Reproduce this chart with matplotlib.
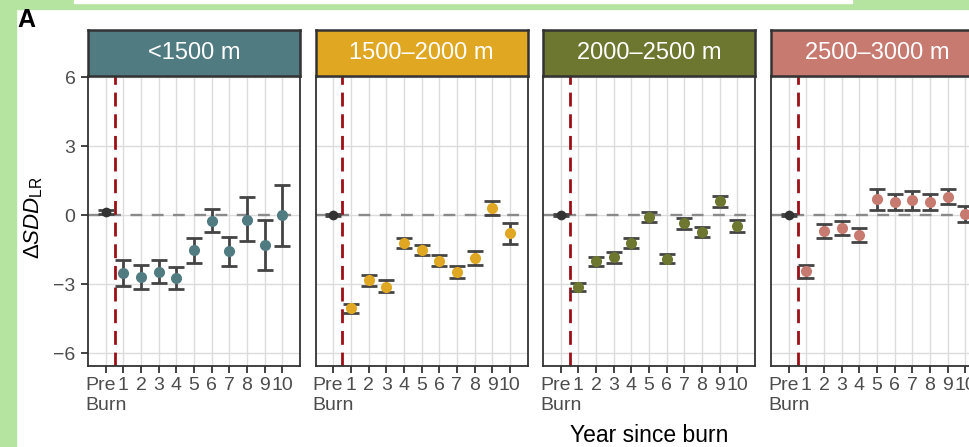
import numpy as np
import matplotlib
matplotlib.use('Agg')
import matplotlib.pyplot as plt
from matplotlib.patches import Rectangle

plt.rcParams['font.family'] = ['Liberation Sans', 'DejaVu Sans']
plt.rcParams['mathtext.fontset'] = 'custom'
plt.rcParams['mathtext.rm'] = 'Liberation Sans'
plt.rcParams['mathtext.it'] = 'Liberation Sans:italic'

# data: mean and interval per year (first value = Pre burn)
years = ['Pre\nBurn', '1', '2', '3', '4', '5', '6', '7', '8', '9', '10']
panel_titles = ['<1500 m', '1500\u20132000 m', '2000\u20132500 m', '2500\u20133000 m']
panel_colors = ['#507b81', '#e0a722', '#6d772f', '#c77a70']

p1_mean = [0.14, -2.50, -2.68, -2.45, -2.74, -1.52, -0.25, -1.57, -0.19, -1.29, 0.00]
p1_lo = [0.04, -3.07, -3.19, -2.94, -3.22, -2.07, -0.73, -2.19, -1.12, -2.39, -1.33]
p1_hi = [0.24, -1.94, -2.15, -1.94, -2.23, -0.97, 0.27, -0.96, 0.80, -0.20, 1.33]

p2_mean = [0.00, -4.04, -2.81, -3.10, -1.19, -1.49, -1.97, -2.45, -1.86, 0.32, -0.78]
p2_lo = [-0.04, -4.26, -3.06, -3.35, -1.42, -1.74, -2.20, -2.73, -2.15, 0.01, -1.23]
p2_hi = [0.04, -3.86, -2.60, -2.81, -0.97, -1.28, -1.73, -2.19, -1.54, 0.63, -0.35]

p3_mean = [0.00, -3.12, -1.99, -1.83, -1.20, -0.06, -1.89, -0.35, -0.74, 0.61, -0.45]
p3_lo = [-0.04, -3.30, -2.20, -2.06, -1.42, -0.30, -2.09, -0.61, -0.96, 0.37, -0.73]
p3_hi = [0.04, -2.93, -1.80, -1.61, -1.00, 0.14, -1.68, -0.10, -0.52, 0.83, -0.22]

p4_mean = [0.00, -2.44, -0.70, -0.57, -0.86, 0.70, 0.58, 0.67, 0.59, 0.81, 0.06]
p4_lo = [-0.04, -2.71, -1.00, -0.87, -1.16, 0.24, 0.22, 0.23, 0.25, 0.48, -0.29]
p4_hi = [0.04, -2.16, -0.39, -0.23, -0.57, 1.14, 0.91, 1.06, 0.91, 1.13, 0.42]

means = [p1_mean, p2_mean, p3_mean, p4_mean]
lows = [p1_lo, p2_lo, p3_lo, p4_lo]
highs = [p1_hi, p2_hi, p3_hi, p4_hi]

W, H = 969, 447
fig = plt.figure(figsize=(W / 100, H / 100), dpi=100)
fig.patch.set_facecolor('white')

green = '#b4e4a0'
def frac(l, t, w, h):
    return [l / W, (H - t - h) / H, w / W, h / H]

# screenshot frame
fig.patches.append(Rectangle((0, 0), 16 / W, 1, transform=fig.transFigure, color=green, zorder=-5))
fig.patches.append(Rectangle((0, 1 - 9 / H), 1, 9 / H, transform=fig.transFigure, color=green, zorder=-5))
fig.patches.append(Rectangle((74 / W, 1 - 3 / H), (852 - 74) / W, 3 / H, transform=fig.transFigure,
                             color='white', zorder=-4))

x = np.arange(1, len(years) + 1)
lefts = [88, 315.5, 543, 771]
dark = '#333333'

for i in range(4):
    ax = fig.add_axes(frac(lefts[i], 76, 212, 290))
    ax.set_xlim(0, 12)
    ax.set_ylim(-6.55, 6.06)
    ax.set_xticks(x)
    ax.set_xticklabels(years)
    ax.set_yticks([-6, -3, 0, 3, 6])
    ax.set_yticklabels(['\u22126', '\u22123', '0', '3', '6'])
    ax.grid(True, color='#dcdcdc', lw=1.0, zorder=0)
    ax.set_axisbelow(True)
    for s in ax.spines.values():
        s.set_color(dark)
        s.set_linewidth(1.3)
    ax.tick_params(length=5, width=1.3, color=dark, labelcolor='#4d4d4d', labelsize=14, pad=3)
    ax.tick_params(axis='y', pad=4)
    ax.get_xticklabels()[0].set_multialignment('left')
    if i > 0:
        ax.tick_params(axis='y', labelleft=False, length=0)

    ax.axhline(0, color='#8a8a8a', lw=1.7, dashes=(5, 4), zorder=1)
    ax.axvline(1.5, color='#9c0f16', lw=2.0, dashes=(5, 2.8), zorder=2)

    m = np.array(means[i])
    lo = np.array(lows[i])
    hi = np.array(highs[i])
    ax.errorbar(x, m, yerr=[m - lo, hi - m], fmt='none', ecolor='#444444',
                elinewidth=2.0, capsize=5.5, capthick=2.0, zorder=3)
    ax.plot(x[1:], m[1:], 'o', color=panel_colors[i], ms=8, mew=0, zorder=4)
    ax.plot(x[:1], m[:1], 'o', color=dark, ms=7, mew=0, zorder=4)

    sax = fig.add_axes(frac(lefts[i], 30, 212, 46))
    sax.set_facecolor(panel_colors[i])
    sax.set_xticks([])
    sax.set_yticks([])
    for s in sax.spines.values():
        s.set_color(dark)
        s.set_linewidth(1.8)
    sax.text(0.5, 0.5, panel_titles[i], color='white', fontsize=17,
             ha='center', va='center', transform=sax.transAxes)

fig.text(17 / W, 1 - 20 / H, 'A', fontsize=18, fontweight='bold', ha='left', va='center')
fig.text(34 / W, 1 - 218 / H, r'$\Delta\mathit{SDD}_{\mathrm{LR}}$', fontsize=16,
         rotation=90, ha='center', va='center')
fig.text(649 / W, 1 - 436 / H, 'Year since burn', fontsize=16.5, ha='center', va='center')

fig.savefig('out.png', dpi=100)
